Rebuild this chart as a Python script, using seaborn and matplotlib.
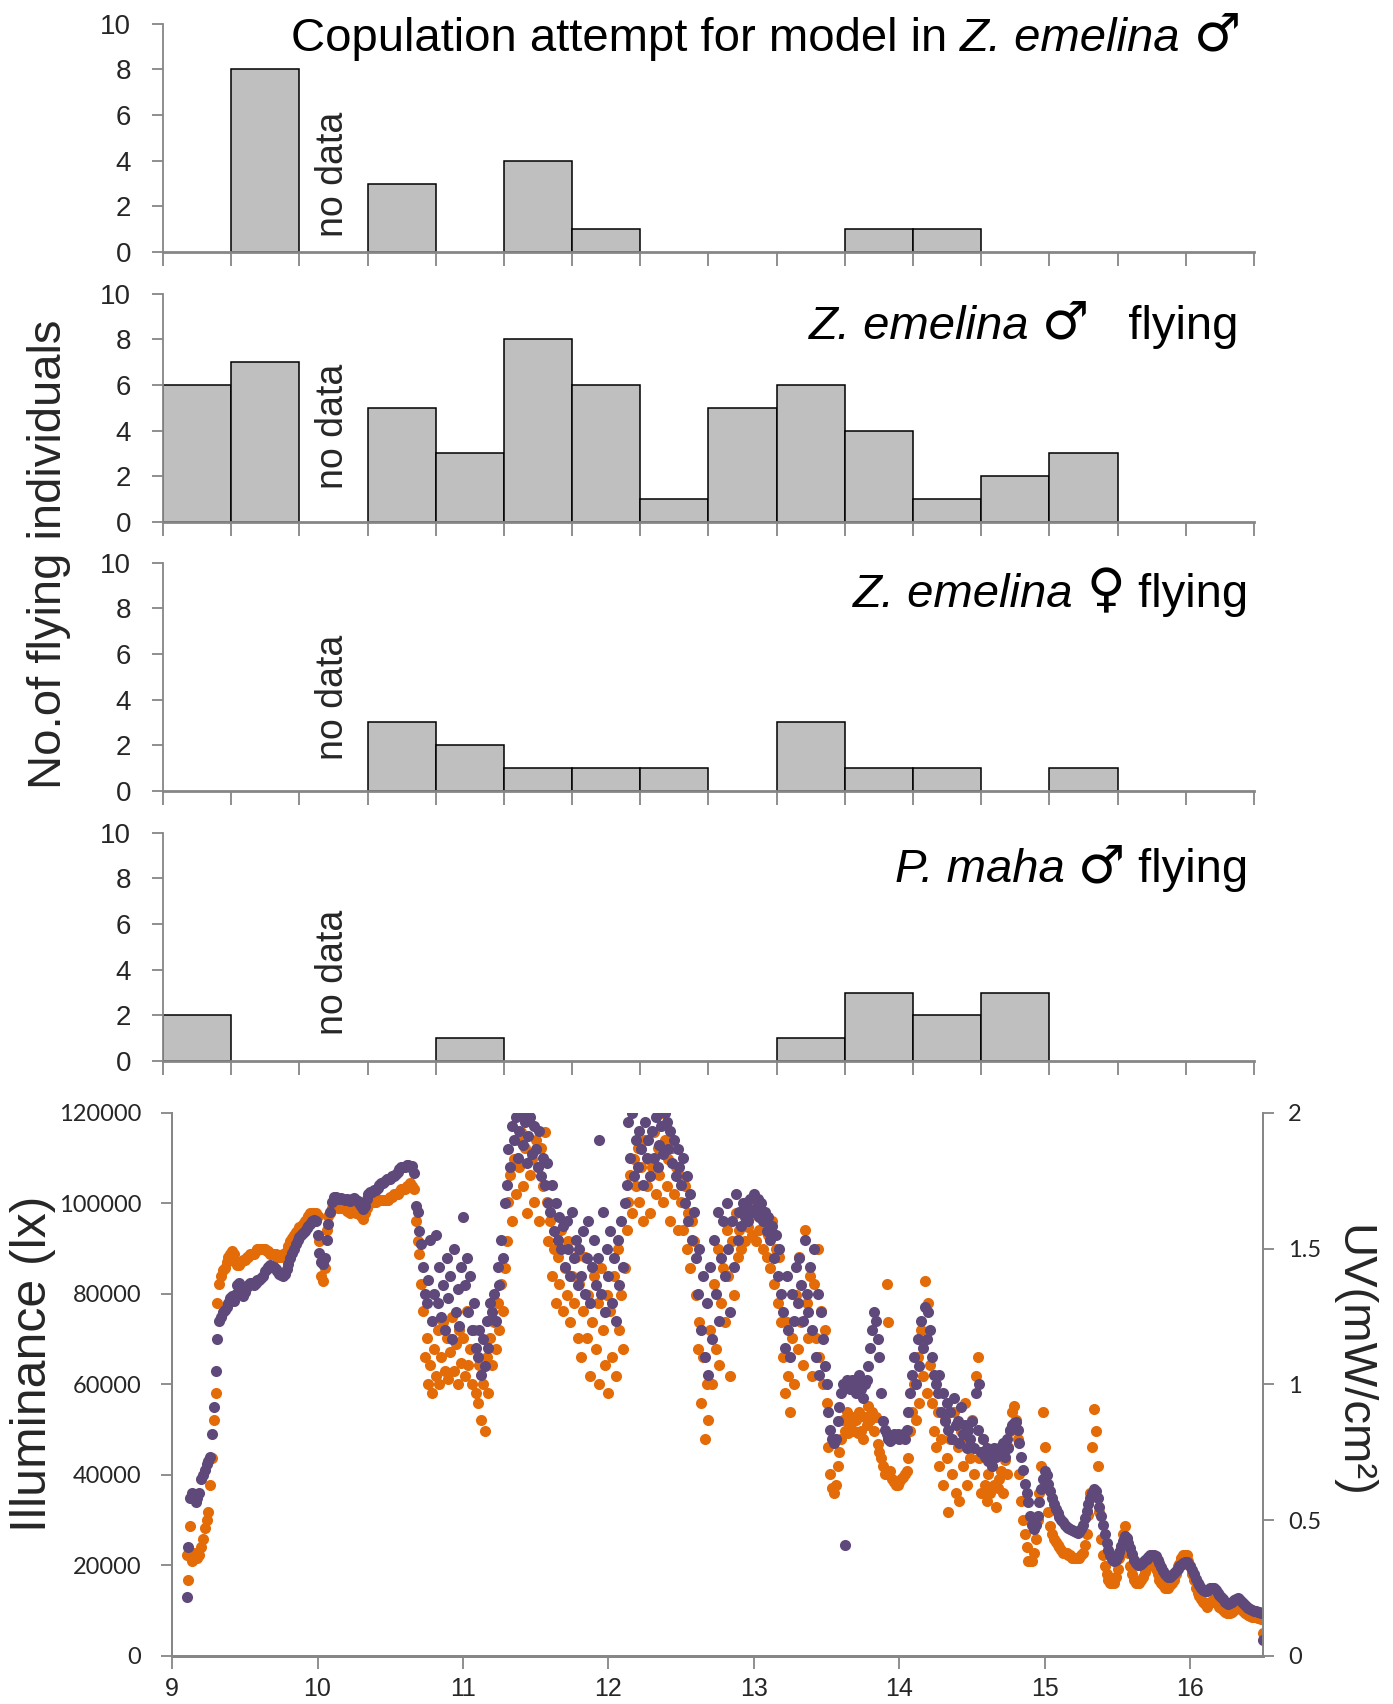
import numpy as np
import pandas as pd
import matplotlib
matplotlib.use('Agg')
import matplotlib.pyplot as plt
import seaborn as sns
from matplotlib.offsetbox import TextArea, HPacker, AnchoredOffsetbox


# Histogram data: 16 equal time bins between 9:00 and 16:30
bins = list(range(16))
copulation = [0, 8, 0, 3, 0, 4, 1, 0, 0, 0, 1, 1, 0, 0, 0, 0]
emelina_male = [6, 7, 0, 5, 3, 8, 6, 1, 5, 6, 4, 1, 2, 3, 0, 0]
emelina_female = [0, 0, 0, 3, 2, 1, 1, 1, 0, 3, 1, 1, 0, 1, 0, 0]
maha_male = [2, 0, 0, 0, 1, 0, 0, 0, 0, 1, 3, 2, 3, 0, 0, 0]
no_data_bin = 2

# Light logger readings, one every 0.0125 h (45 s) starting at 9.10 h
# each row below covers 0.1 h
t_start = 9.10
t_step = 0.0125
illum_klx = [
    13, 24, 35, 36, 35, 34, 35, 36,                     # 9.1
    39, 40, 41, 42.5, 43, 44, 49, 55,
    63, 70, 74, 75, 76, 76.5, 77, 78,
    79, 79.5, 78.5, 80, 82, 82.5, 81, 79.5,
    80.5, 81.5, 82, 82.5, 82.5, 82, 82.5, 83,
    83, 83.5, 84, 85, 85.5, 86, 86.3, 86,
    86, 85.5, 85, 84.5, 84.2, 84, 84.5, 85.5,
    86.5, 88, 89, 90, 91, 92, 92.5, 93,
    93.5, 94, 94.5, 95, 95.5, 96, 96.3, 96,
    93, 89, 87, 86.6, 88, 92, 95.5, 98,                 # 10.0
    100.3, 101.5, 101.5, 101, 101, 101.2, 101, 100.8,
    101, 100.7, 100.5, 101, 101.2, 100.8, 100.5, 100,
    99.5, 98.7, 99.5, 101, 102, 102.5, 102.5, 103,
    103, 103.5, 104, 104.5, 104.5, 105, 105.5, 105.5,
    105.5, 106, 106, 106.5, 107, 107.5, 108, 108,
    108, 108.4, 108.4, 108, 108.2, 106.8, 99.5, 98,
    94, 91, 86, 80, 78, 83, 92, 74,
    80, 93, 78, 86, 75, 82, 72, 88,
    79, 84, 70, 90, 76, 81, 73, 86,
    97, 82, 88, 76, 84, 72, 78, 68,                     # 11.0
    66, 72, 62, 70, 64, 74, 68, 78,
    76, 80, 74, 86, 82, 92, 88, 100,
    104, 112, 108, 117, 114, 119, 110, 116,
    120, 113, 118, 109, 115, 119, 111, 117,
    112, 108, 116, 106, 110, 104, 109, 100,
    98, 104, 94, 100, 92, 97, 90, 95,
    86, 96, 90, 84, 98, 88, 92, 82,
    90, 84, 94, 80, 88, 96, 78, 86,
    92, 82, 88, 114, 80, 98, 76, 90,
    84, 94, 78, 88, 74, 92, 82, 96,                     # 12.0
    86, 100, 104, 118, 110, 120, 106, 114,
    108, 116, 112, 104, 118, 110, 114, 106,
    116, 110, 119, 108, 113, 117, 111, 120,
    118, 112, 116, 109, 114, 106, 112, 108,
    104, 110, 100, 106, 96, 102, 92, 98,
    88, 80, 90, 72, 84, 66, 78, 62,
    86, 70, 92, 80, 98, 74, 88, 96,
    84, 100, 90, 76, 96, 86, 102, 92,
    98, 95, 100, 97, 99, 96, 101, 98,
    102, 99, 101, 97, 100, 96, 98, 94,                  # 13.0
    97, 92, 95, 88, 93, 84, 90, 80,
    76, 68, 84, 72, 66, 80, 74, 86,
    78, 88, 82, 74, 92, 80, 76, 86,
    72, 90, 66, 80, 62, 76, 70, 64,
    60, 54, 50, 48, 47, 48, 52, 55,
    58, 60, 24.6, 61, 60, 59, 61, 60,
    58, 60, 62, 59, 57, 60, 61, 64,
    68, 72, 76, 74, 70, 66, 58, 52,
    50, 49, 48, 47.5, 48, 49, 48.5, 49,
    48, 48.5, 49, 48, 50, 54, 58, 62,                   # 14.0
    66, 60, 70, 64, 74, 68, 77, 70,
    76, 72, 66, 62, 60, 58, 62, 54,
    58, 52, 56, 50, 54, 48, 57, 51,
    52, 47, 55, 49, 51, 46, 50, 48,
    52, 46, 58, 50, 60, 45, 48, 44,
    46, 43, 45, 42, 46, 44, 45, 46,
    45, 47, 44, 48, 46, 50, 51, 51.5,
    51.7, 50, 47, 44, 41, 38, 36, 34,
    31, 29, 28, 29, 31, 34, 37, 39,
    40.8, 40, 38, 36.5, 35, 33.5, 32.5, 31.5,           # 15.0
    30.8, 30, 29.6, 29, 28.5, 28.2, 28, 27.8,
    27.5, 27.3, 27.2, 27.4, 28, 29, 30.5, 32,
    33.5, 35, 36, 36.8, 36.5, 35, 33, 31,
    29, 27, 25, 23.5, 22.3, 21.5, 21, 21.2,
    22, 23, 24.3, 25.5, 26.4, 26, 25, 23.8,
    22.5, 21.3, 20.5, 20, 20, 20.3, 20.8, 21.3,
    21.5, 21.9, 22.2, 22.3, 22.3, 22, 21.3, 20.5,
    19.6, 18.8, 18.2, 17.7, 17.5, 17.5, 17.8, 18.3,
    18.8, 19.3, 19.8, 20.2, 20.5, 20.7, 20.7, 20.3,
    19.8, 19, 18, 17, 16.2, 15.6, 15, 14.6,             # 16.0
    14.3, 14.3, 14.6, 15, 15.1, 15, 14.6, 14,
    13.5, 13, 12.5, 12, 11.7, 11.5, 11.6, 12,
    12.3, 12.6, 12.7, 12.6, 12.2, 11.8, 11.3, 10.9,
    10.6, 10.3, 10.1, 10, 9.9, 9.8, 9.7, 9.5,
    3.5,
]
uv = [
    0.37, 0.28, 0.48, 0.35, 0.38, 0.37, 0.36, 0.37,     # 9.1
    0.40, 0.43, 0.47, 0.50, 0.53, 0.63, 0.73, 0.87,
    0.97, 1.30, 1.37, 1.40, 1.42, 1.43, 1.45, 1.47,
    1.48, 1.49, 1.48, 1.45, 1.44, 1.44, 1.45, 1.46,
    1.46, 1.47, 1.47, 1.48, 1.48, 1.48, 1.49, 1.50,
    1.50, 1.50, 1.50, 1.50, 1.49, 1.49, 1.48, 1.48,
    1.48, 1.48, 1.47, 1.47, 1.47, 1.48, 1.48, 1.49,
    1.51, 1.53, 1.54, 1.55, 1.56, 1.57, 1.58, 1.58,
    1.59, 1.60, 1.61, 1.62, 1.63, 1.63, 1.63, 1.63,
    1.62, 1.53, 1.40, 1.38, 1.43, 1.57, 1.62, 1.63,     # 10.0
    1.65, 1.66, 1.66, 1.65, 1.65, 1.65, 1.65, 1.65,
    1.64, 1.64, 1.63, 1.64, 1.64, 1.63, 1.63, 1.63,
    1.62, 1.61, 1.63, 1.65, 1.66, 1.67, 1.67, 1.67,
    1.67, 1.68, 1.68, 1.68, 1.68, 1.68, 1.68, 1.68,
    1.69, 1.69, 1.70, 1.70, 1.70, 1.71, 1.72, 1.72,
    1.72, 1.73, 1.73, 1.74, 1.73, 1.72, 1.60, 1.53,
    1.48, 1.37, 1.27, 1.10, 1.17, 1.00, 1.07, 0.97,
    1.13, 1.03, 1.20, 1.00, 1.10, 1.23, 1.05, 1.17,
    1.02, 1.12, 1.25, 1.05, 1.15, 1.00, 1.20, 1.08,
    1.17, 1.03, 1.27, 1.07, 1.13, 1.00, 1.20, 0.97,     # 11.0
    0.93, 1.07, 0.87, 1.00, 0.83, 1.10, 0.97, 1.17,
    1.07, 1.23, 1.13, 1.30, 1.20, 1.37, 1.27, 1.43,
    1.53, 1.67, 1.77, 1.60, 1.83, 1.70, 1.90, 1.80,
    1.93, 1.73, 1.87, 1.63, 1.97, 1.77, 1.83, 1.67,
    1.90, 1.80, 1.60, 1.87, 1.73, 1.93, 1.67, 1.53,
    1.60, 1.40, 1.50, 1.30, 1.47, 1.37, 1.57, 1.27,
    1.43, 1.33, 1.53, 1.23, 1.40, 1.30, 1.47, 1.17,
    1.37, 1.10, 1.27, 1.47, 1.17, 1.33, 1.03, 1.23,
    1.40, 1.13, 1.30, 1.00, 1.43, 1.20, 1.07, 1.33,
    0.97, 1.27, 1.10, 1.40, 1.03, 1.50, 1.20, 1.33,     # 12.0
    1.13, 1.43, 1.57, 1.67, 1.77, 1.63, 1.83, 1.73,
    1.87, 1.67, 1.80, 1.60, 1.90, 1.73, 1.83, 1.63,
    1.80, 1.93, 1.70, 1.87, 1.77, 2.00, 1.67, 1.90,
    1.73, 1.83, 1.60, 1.87, 1.70, 1.80, 1.57, 1.77,
    1.67, 1.57, 1.73, 1.50, 1.63, 1.43, 1.60, 1.53,
    1.33, 1.13, 1.23, 0.93, 1.10, 0.80, 1.00, 0.87,
    1.20, 1.00, 1.37, 1.13, 1.50, 1.07, 1.30, 1.43,
    1.23, 1.57, 1.40, 1.03, 1.53, 1.33, 1.63, 1.47,
    1.57, 1.50, 1.63, 1.53, 1.67, 1.58, 1.62, 1.55,
    1.63, 1.53, 1.67, 1.57, 1.62, 1.50, 1.58, 1.47,     # 13.0
    1.55, 1.43, 1.60, 1.37, 1.50, 1.30, 1.47, 1.23,
    1.10, 0.97, 1.23, 1.03, 0.90, 1.17, 1.00, 1.33,
    1.13, 1.47, 1.23, 1.07, 1.57, 1.30, 1.17, 1.40,
    1.03, 1.37, 1.17, 1.50, 1.10, 1.27, 1.00, 1.20,
    0.93, 0.77, 0.67, 0.62, 0.60, 0.63, 0.70, 0.75,
    0.80, 0.87, 0.83, 0.90, 0.82, 0.85, 0.88, 0.83,
    0.87, 0.82, 0.90, 0.83, 0.80, 0.88, 0.85, 0.92,
    0.87, 0.90, 0.83, 0.88, 0.78, 0.75, 0.73, 0.70,
    0.67, 1.37, 1.23, 0.68, 0.65, 0.64, 0.63, 0.63,
    0.64, 0.65, 0.66, 0.67, 0.68, 0.73, 0.83, 0.90,     # 14.0
    1.00, 0.87, 1.10, 0.93, 1.20, 1.03, 1.38, 0.97,
    1.30, 1.07, 0.93, 0.83, 0.77, 0.90, 0.70, 0.80,
    0.63, 0.87, 0.73, 0.53, 0.80, 0.67, 0.90, 0.60,
    0.77, 0.57, 0.83, 0.70, 0.93, 0.63, 0.80, 0.73,
    0.87, 0.67, 1.03, 1.10, 0.73, 0.60, 0.80, 0.63,
    0.57, 0.67, 0.60, 0.70, 0.63, 0.55, 0.62, 0.65,
    0.68, 0.60, 0.72, 0.67, 0.77, 0.83, 0.90, 0.92,
    0.87, 0.80, 0.67, 0.57, 0.50, 0.45, 0.40, 0.35,
    0.35, 0.35, 0.38, 0.43, 0.50, 0.60, 0.70, 0.90,
    0.77, 0.63, 0.53, 0.48, 0.45, 0.43, 0.42, 0.41,     # 15.0
    0.40, 0.39, 0.38, 0.38, 0.38, 0.37, 0.37, 0.36,
    0.36, 0.36, 0.36, 0.36, 0.37, 0.38, 0.41, 0.45,
    0.52, 0.60, 0.77, 0.91, 0.83, 0.70, 0.53, 0.43,
    0.37, 0.33, 0.30, 0.28, 0.27, 0.27, 0.27, 0.29,
    0.32, 0.36, 0.40, 0.45, 0.48, 0.43, 0.38, 0.33,
    0.30, 0.28, 0.27, 0.27, 0.27, 0.28, 0.29, 0.31,
    0.33, 0.34, 0.35, 0.34, 0.33, 0.32, 0.30, 0.28,
    0.27, 0.26, 0.25, 0.25, 0.25, 0.26, 0.27, 0.28,
    0.30, 0.33, 0.34, 0.36, 0.37, 0.37, 0.37, 0.35,
    0.33, 0.30, 0.28, 0.25, 0.23, 0.22, 0.21, 0.20,     # 16.0
    0.19, 0.18, 0.19, 0.20, 0.20, 0.21, 0.20, 0.19,
    0.18, 0.175, 0.17, 0.163, 0.158, 0.157, 0.158, 0.163,
    0.17, 0.175, 0.178, 0.177, 0.172, 0.167, 0.16, 0.155,
    0.152, 0.148, 0.145, 0.143, 0.142, 0.14, 0.138, 0.137,
    0.083,
]

time_h = np.round(t_start + t_step * np.arange(len(illum_klx)), 4)
df_light = pd.DataFrame({'time': time_h,
                         'illuminance': np.array(illum_klx) * 1000,
                         'uv': uv})

# Colours
bar_gray = '#bfbfbf'
axis_gray = '#868686'
purple = '#5f497a'
orange = '#e36c09'

sns.set_theme(style='white')
plt.rcParams['font.family'] = ['Liberation Sans', 'DejaVu Sans']
narrow = ['Liberation Sans Narrow', 'Liberation Sans', 'DejaVu Sans']
calibri_like = ['Lato', 'DejaVu Sans']
symbol_font = ['DejaVu Sans']

fig = plt.figure(figsize=(13.93, 17.04), dpi=100)


def style_axis(ax):
    for side in ['left', 'bottom', 'right']:
        ax.spines[side].set_color(axis_gray)
        ax.spines[side].set_linewidth(1.3)
    ax.spines['bottom'].set_linewidth(2.0)
    ax.spines['top'].set_visible(False)


def add_label(ax, parts, x, y):
    children = []
    for txt, st in parts:
        if st == 'symbol':
            props = dict(fontsize=38, color='black', family=symbol_font)
        else:
            props = dict(fontsize=34, fontstyle=st, color='black',
                         family=['Liberation Sans', 'DejaVu Sans'])
        children.append(TextArea(txt, textprops=props))
    box = HPacker(children=children, align='baseline', pad=0, sep=0)
    anchored = AnchoredOffsetbox(loc='center right', child=box, pad=0, borderpad=0,
                                 frameon=False, bbox_to_anchor=(x, y),
                                 bbox_transform=ax.transAxes)
    ax.add_artist(anchored)


def draw_hist(rect, counts, parts, label_xy, nodata_y):
    ax = fig.add_axes(rect)
    df = pd.DataFrame({'bin': bins, 'count': counts})
    df = df[df['count'] > 0]
    sns.barplot(data=df, x='bin', y='count', order=bins, color=bar_gray, saturation=1,
                edgecolor='black', linewidth=1.1, width=1, errorbar=None, ax=ax)
    ax.set_xlim(-0.5, len(bins) - 0.5)
    ax.set_ylim(0, 10)
    ax.set_yticks(range(0, 11, 2))
    ax.set_yticklabels([str(v) for v in range(0, 11, 2)], family=narrow, fontsize=20)
    ax.set_xticks(np.arange(-0.5, len(bins), 1))
    ax.set_xticklabels([])
    ax.set_xlabel('')
    ax.set_ylabel('')
    style_axis(ax)
    ax.spines['right'].set_visible(False)
    ax.tick_params(axis='y', left=True, length=8, width=1.3, color=axis_gray, pad=15)
    ax.tick_params(axis='x', bottom=True, length=10, width=1.3, color=axis_gray)
    ax.text(no_data_bin, nodata_y, 'no data', rotation=90, ha='center', va='center',
            fontsize=27)
    add_label(ax, parts, *label_xy)
    return ax


left, width, height = 0.117, 0.7832, 0.134
draw_hist([left, 0.8521, width, height], copulation,
          [('Copulation attempt for model in ', 'normal'), ('Z. emelina', 'italic'),
           (' ', 'normal'), ('\u2642', 'symbol')],
          (0.988, 0.947), 3.4)
draw_hist([left, 0.6937, width, height], emelina_male,
          [('Z. emelina', 'italic'), (' ', 'normal'), ('\u2642', 'symbol'),
           ('   flying', 'normal')],
          (0.986, 0.869), 4.2)
draw_hist([left, 0.5358, width, height], emelina_female,
          [('Z. emelina', 'italic'), (' ', 'normal'), ('\u2640', 'symbol'),
           (' flying', 'normal')],
          (0.995, 0.873), 4.1)
draw_hist([left, 0.3773, width, height], maha_male,
          [('P. maha', 'italic'), (' ', 'normal'), ('\u2642', 'symbol'),
           (' flying', 'normal')],
          (0.995, 0.85), 3.9)

fig.text(0.035, 0.675, 'No.of flying individuals', rotation=90, ha='center', va='center',
         fontsize=34)

# Illuminance / UV scatter
ax = fig.add_axes([0.1235, 0.0282, 0.7832, 0.3187])
ax2 = ax.twinx()
sns.scatterplot(data=df_light, x='time', y='uv', ax=ax2, color=orange, s=64,
                linewidth=0, legend=False)
sns.scatterplot(data=df_light, x='time', y='illuminance', ax=ax, color=purple, s=64,
                linewidth=0, legend=False)
ax.set_zorder(ax2.get_zorder() + 1)
ax.patch.set_visible(False)

ax.set_xlim(9, 16.5)
ax.set_ylim(0, 120000)
ax2.set_ylim(0, 2)
ax.set_xticks(range(9, 17))
ax.set_xticklabels([str(v) for v in range(9, 17)], family=narrow, fontsize=18)
lux_ticks = list(range(0, 120001, 20000))
ax.set_yticks(lux_ticks)
ax.set_yticklabels([str(v) for v in lux_ticks], family=calibri_like, fontsize=17)
uv_ticks = [0, 0.5, 1, 1.5, 2]
ax2.set_yticks(uv_ticks)
ax2.set_yticklabels(['0', '0.5', '1', '1.5', '2'], family=calibri_like, fontsize=17)
ax.set_xlabel('')
ax.set_ylabel('')
ax2.set_ylabel('')

for a in (ax, ax2):
    style_axis(a)
ax.tick_params(axis='y', left=True, length=8, width=1.3, color=axis_gray, pad=14)
ax.tick_params(axis='x', bottom=True, length=9, width=1.3, color=axis_gray, pad=6)
ax2.tick_params(axis='y', right=True, length=8, width=1.3, color=axis_gray, pad=10)

fig.text(0.0235, 0.1995, 'Illuminance (lx)', rotation=90, ha='center', va='center',
         fontsize=36)
fig.text(0.971, 0.2013, 'UV(mW/cm\u00b2)', rotation=270, ha='center', va='center',
         fontsize=34)

fig.savefig('out.png', dpi=100)
